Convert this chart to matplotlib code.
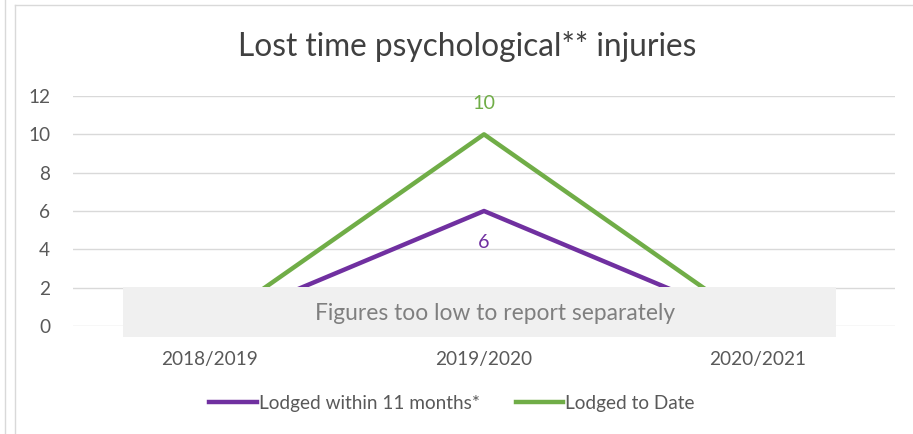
import matplotlib
matplotlib.use("Agg")
import matplotlib.pyplot as plt
from matplotlib.patches import Rectangle
from matplotlib.lines import Line2D

plt.rcParams['font.family'] = ['Lato', 'DejaVu Sans']

categories = ["2018/2019", "2019/2020", "2020/2021"]
within_11_months = [0, 6, 0]
to_date = [0, 10, 0]
series_names = ["Lodged within 11 months*", "Lodged to Date"]
yticks = [0, 2, 4, 6, 8, 10, 12]

purple = "#7030A0"
green = "#70AD47"
W, H = 913, 434
fig = plt.figure(figsize=(W / 100, H / 100), dpi=100)
ax = fig.add_axes([73 / W, 1 - 326 / H, 822 / W, 230 / H])

x = list(range(len(categories)))
ax.plot(x, within_11_months, color=purple, lw=3.2, solid_capstyle='butt', zorder=3)
ax.plot(x, to_date, color=green, lw=3.2, solid_capstyle='butt', zorder=3)

ax.set_xlim(-0.5, len(categories) - 0.5)
ax.set_ylim(0, 12)
ax.set_yticks(yticks)
ax.set_yticklabels([str(v) for v in yticks], color="#595959", fontsize=13.7)
ax.set_xticks(x)
ax.set_xticklabels(categories, color="#595959", fontsize=13.7)
ax.tick_params(axis='both', length=0)
ax.tick_params(axis='y', pad=16.5)
ax.tick_params(axis='x', pad=18)
ax.grid(axis='y', color="#D9D9D9", lw=1)
ax.set_axisbelow(True)
for s in ax.spines.values():
    s.set_visible(False)

# data labels
ax.annotate(str(to_date[1]), (1, to_date[1]), xytext=(0, 22.5), textcoords='offset points',
            ha='center', va='center', color=green, fontsize=14.2)
ax.annotate(str(within_11_months[1]), (1, within_11_months[1]), xytext=(0, -23), textcoords='offset points',
            ha='center', va='center', color=purple, fontsize=14.2)

# overlay box
rect = Rectangle((123 / W, 1 - 337 / H), (836 - 123) / W, 50 / H, transform=fig.transFigure,
                 facecolor="#F0F0F0", edgecolor="none", zorder=10, clip_on=False)
ax.add_artist(rect)
fig.text(495 / W, 1 - 313 / H, "Figures too low to report separately", ha='center', va='center',
         color="#7F7F7F", fontsize=16.4, zorder=11)

fig.text(467 / W, 1 - 46 / H, "Lost time psychological** injuries", ha='center', va='center',
         color="#404040", fontsize=22.8)

handles = [Line2D([0], [0], color=purple, lw=3.2), Line2D([0], [0], color=green, lw=3.2)]
fig.legend(handles, series_names, loc='center', bbox_to_anchor=(452 / W, 1 - 403 / H), ncol=2,
           frameon=False, fontsize=13.7, labelcolor="#595959", handlelength=2.5,
           handletextpad=0.1, columnspacing=1.9)

# chart borders
border = "#D9D9D9"
fig.add_artist(Line2D([5 / W, 5 / W], [0, 1], transform=fig.transFigure, color=border, lw=1))
fig.add_artist(Line2D([14.5 / W, 14.5 / W], [0, 1 - 5 / H], transform=fig.transFigure, color=border, lw=1))
fig.add_artist(Line2D([14.5 / W, 1], [1 - 5 / H, 1 - 5 / H], transform=fig.transFigure, color=border, lw=1))

fig.savefig("out.png", dpi=100)
